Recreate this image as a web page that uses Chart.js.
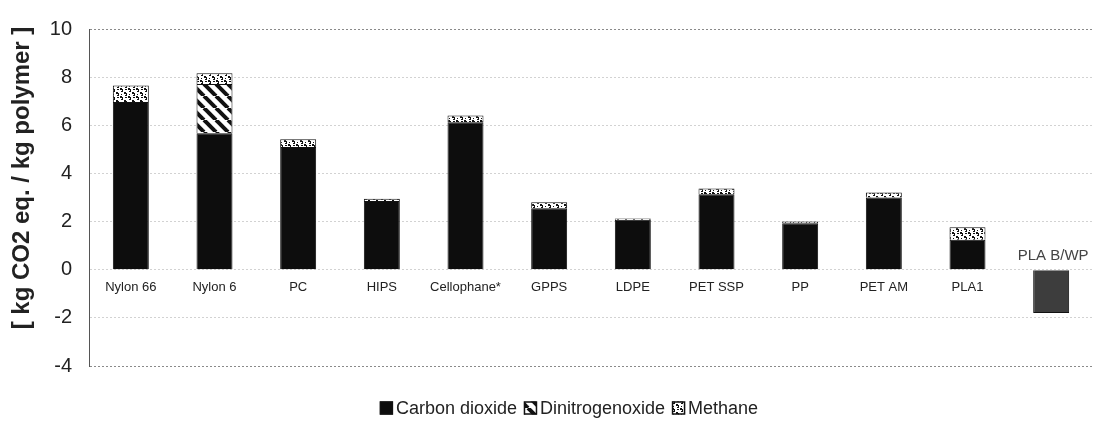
<!DOCTYPE html>
<html>
<head>
<meta charset="utf-8">
<script src="https://cdn.jsdelivr.net/npm/chart.js@4.4.1/dist/chart.umd.min.js"></script>
<style>
html,body{margin:0;padding:0;background:#fff;}
#wrap{width:1094px;height:434px;position:relative;}
</style>
</head>
<body>
<div id="wrap"><canvas id="c" width="1094" height="434"></canvas></div>
<script>
const categories = ['Nylon 66','Nylon 6','PC','HIPS','Cellophane*','GPPS','LDPE','PET SSP','PP','PET AM','PLA1','PLA B/WP'];
const carbonDioxide = [6.97, 5.67, 5.10, 2.85, 6.13, 2.55, 2.08, 3.14, 1.93, 3.00, 1.25, -1.80];
const dinitrogenoxide = [null, 2.05, null, null, null, null, null, null, null, null, null, null];
const methane = [0.68, 0.44, 0.32, 0.10, 0.28, 0.25, 0.05, 0.23, 0.07, 0.21, 0.51, null];
const seriesNames = ['Carbon dioxide','Dinitrogenoxide','Methane'];
const yTicks = [-4,-2,0,2,4,6,8,10];
const yTitle = '[ kg CO2 eq. / kg polymer ]';

function makeStripe(){
  const s = 12, c = document.createElement('canvas');
  c.width = s; c.height = s;
  const g = c.getContext('2d');
  g.fillStyle = '#fff'; g.fillRect(0,0,s,s);
  g.strokeStyle = '#111'; g.lineWidth = 4;
  for (const x0 of [-s,0,s]) { g.beginPath(); g.moveTo(x0,0); g.lineTo(x0+s,s); g.stroke(); }
  return g.createPattern(c,'repeat');
}
function makeDots(){
  const w = 8, h = 8, c = document.createElement('canvas');
  c.width = w; c.height = h;
  const g = c.getContext('2d');
  g.fillStyle = '#fff'; g.fillRect(0,0,w,h);
  g.fillStyle = '#111';
  g.fillRect(0,0,2,2); g.fillRect(2,1,1,2); g.fillRect(1,3,2,1);
  g.fillRect(4,4,2,2); g.fillRect(6,5,1,2); g.fillRect(5,7,2,1);
  g.fillRect(5,1,2,1); g.fillRect(1,6,1,1);
  return g.createPattern(c,'repeat');
}
const ctx = document.getElementById('c').getContext('2d');
const stripe = makeStripe();
const dots = makeDots();
const co2Colors = carbonDioxide.map(v => v < 0 ? '#3d3d3d' : '#0d0d0d');

const labelPlugin = {
  id: 'labels',
  afterDatasetsDraw(chart){
    const g = chart.ctx, xs = chart.scales.x, ys = chart.scales.y;
    const y0 = ys.getPixelForValue(0);
    g.save();
    g.textAlign = 'center'; g.textBaseline = 'middle';
    categories.forEach((cat,i) => {
      const x = xs.getPixelForValue(i);
      if (carbonDioxide[i] < 0) {
        g.font = '15px "Liberation Sans", Arial, sans-serif';
        g.fillStyle = '#444';
        g.fillText(cat, x + 2, y0 - 14);
      } else {
        g.font = '13px "Liberation Sans", Arial, sans-serif';
        g.fillStyle = '#222';
        g.fillText(cat, x, y0 + 18);
      }
    });
    // y axis title
    g.save();
    g.translate(22.5, 178);
    g.rotate(-Math.PI/2);
    g.font = 'bold 24px "Liberation Sans", Arial, sans-serif';
    g.fillStyle = '#222';
    g.fillText(yTitle, 0, 0);
    g.restore();
    // legend
    const fills = ['#0d0d0d', stripe, dots];
    g.font = '18px "Liberation Sans", Arial, sans-serif';
    g.textAlign = 'left';
    const box = 13, gap = 3, sep = 7;
    let total = 0;
    const widths = seriesNames.map(n => g.measureText(n).width);
    widths.forEach(w => total += box + gap + w);
    total += sep * (seriesNames.length - 1);
    let x = 569 - total/2;
    const yc = 408;
    seriesNames.forEach((n,i) => {
      g.fillStyle = fills[i];
      g.fillRect(x, yc - box/2, box, box);
      g.strokeStyle = '#111'; g.lineWidth = 1.5;
      g.strokeRect(x+0.5, yc - box/2 + 0.5, box-1, box-1);
      g.fillStyle = '#222';
      g.fillText(n, x + box + gap, yc + 1);
      x += box + gap + widths[i] + sep;
    });
    g.restore();
  }
};

new Chart(ctx, {
  type: 'bar',
  data: {
    labels: categories,
    datasets: [
      { label: seriesNames[0], data: carbonDioxide, backgroundColor: co2Colors, borderColor: '#111', borderWidth: 1 },
      { label: seriesNames[1], data: dinitrogenoxide, backgroundColor: stripe, borderColor: '#111', borderWidth: 1 },
      { label: seriesNames[2], data: methane, backgroundColor: dots, borderColor: '#111', borderWidth: 1 }
    ]
  },
  options: {
    responsive: false,
    animation: false,
    events: [],
    layout: { padding: { left: 0, right: 1, top: 19, bottom: 68 } },
    datasets: { bar: { categoryPercentage: 1, barPercentage: 0.43 } },
    plugins: { legend: { display: false }, tooltip: { enabled: false } },
    scales: {
      x: { stacked: true, display: false, grid: { display: false } },
      y: {
        stacked: true,
        min: -4, max: 10,
        afterBuildTicks(scale){ scale.ticks = yTicks.map(v => ({ value: v })); },
        afterFit(scale){ scale.width = 89; },
        ticks: {
          padding: 17,
          color: '#222',
          font: { size: 20, family: '"Liberation Sans", Arial, sans-serif' },
          callback: v => String(v)
        },
        grid: {
          drawTicks: false,
          color: c => (c.tick && (c.tick.value === 10 || c.tick.value === -4)) ? '#8a8a8a' : '#d2d2d2',
          lineWidth: 1
        },
        border: { display: true, color: '#555', width: 1, dash: [2,2] },
        title: { display: false }
      }
    }
  },
  plugins: [labelPlugin]
});
</script>
</body>
</html>
